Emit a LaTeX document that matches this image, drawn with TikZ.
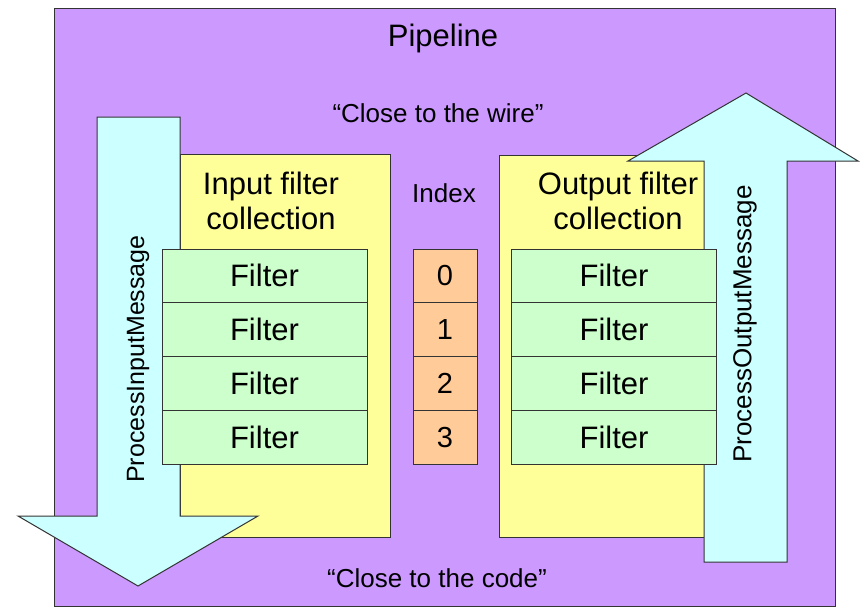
\documentclass[tikz,border=0pt]{standalone}
\usepackage{fontspec}
\setmainfont{Liberation Sans}
\definecolor{pipepurple}{HTML}{CC99FF}
\definecolor{collyellow}{HTML}{FFFF99}
\definecolor{filtergreen}{HTML}{CCFFCC}
\definecolor{indexorange}{HTML}{FFCC99}
\definecolor{flowcyan}{HTML}{CCFFFF}

\begin{document}
\begin{tikzpicture}[x=1pt, y=-1pt]
    \tikzset{
        box/.style={
            draw=black!80, line width=1pt, inner sep=0pt,
        },
        filterbox/.style={
            box, fill=filtergreen, minimum width=205pt, minimum height=53.75pt,
            font=\fontsize{31}{35}\selectfont,
        },
        indexbox/.style={
            box, fill=indexorange, minimum width=64pt, minimum height=53.75pt,
            font=\fontsize{29}{33}\selectfont,
        },
        bigtext/.style={font=\fontsize{31}{35}\selectfont, align=center},
        smalltext/.style={font=\fontsize{26}{30}\selectfont},
        flowarrow/.style={draw=black!80, line width=1pt, fill=flowcyan, line join=miter},
    }
    \useasboundingbox (0,0) rectangle (860,608);

    % Pipeline
    \node[box, fill=pipepurple, minimum width=781pt, minimum height=598pt,
          anchor=north west] (pipeline) at (54,8) {};
    \node[bigtext, anchor=base] (title) at (443,46) {Pipeline};
    \node[smalltext, anchor=base] (wire) at (438,122) {“Close to the wire”};
    \node[smalltext, anchor=base] (code) at (437,587) {“Close to the code”};

    % Collections
    \node[box, fill=collyellow, minimum width=210pt, minimum height=383pt,
          anchor=north west] (incoll) at (180,154) {};
    \node[box, fill=collyellow, minimum width=205pt, minimum height=382pt,
          anchor=north west] (outcoll) at (499,155) {};

    % Arrows
    \filldraw[flowarrow] (97,117) -- (180,117) -- (180,516) -- (258,516)
        -- (138,586) -- (18,516) -- (97,516) -- cycle;
    \filldraw[flowarrow] (704,562) -- (704,161) -- (628,161) -- (746,93)
        -- (858,161) -- (787,161) -- (787,562) -- cycle;
    \node[smalltext, font=\fontsize{25}{29}\selectfont, rotate=90] (inmsg) at (138,359) {ProcessInputMessage};
    \node[smalltext, rotate=90] (outmsg) at (745,324) {ProcessOutputMessage};

    % Filters and index
    \foreach \i in {0,...,3} {
        \node[filterbox] (lf\i) at (264.5,{275.9+53.75*\i}) {Filter};
        \node[indexbox] (ix\i) at (445,{275.9+53.75*\i}) {\i};
        \node[filterbox] (rf\i) at (614,{275.9+53.75*\i}) {Filter};
    }
    \node[smalltext] (index) at (444,193) {Index};

    \node[bigtext] (intitle) at (271,201) {Input filter\\collection};
    \node[bigtext] (outtitle) at (618,201) {Output filter\\collection};

\end{tikzpicture}
\end{document}
